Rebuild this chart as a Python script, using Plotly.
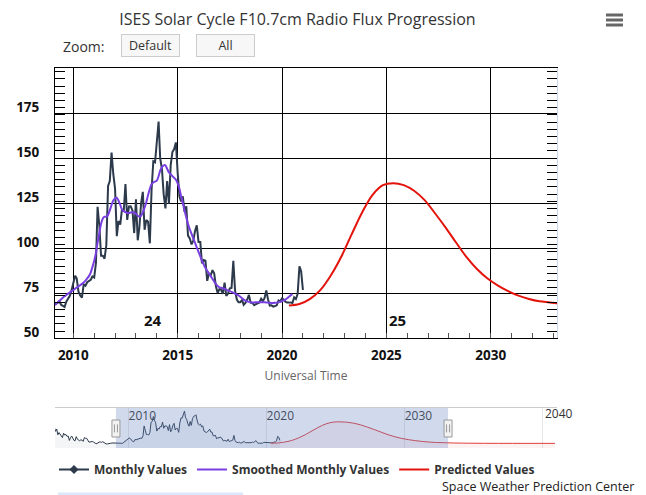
import plotly.graph_objects as go
import pandas as pd

# ---------------- data ----------------
monthly_start = "2004-09-01"
monthly_values = [
    # 2004 (Sep-Dec)
    118, 106, 113, 95,
    # 2005
    102, 97, 90, 86, 100, 94, 96, 90, 91, 77, 86, 91,
    # 2006
    84, 77, 76, 89, 81, 77, 76, 79, 78, 74, 86, 84,
    # 2007
    84, 78, 72, 72, 74, 74, 72, 69, 67, 67, 70, 72,
    # 2008
    72, 71, 73, 70, 68, 66, 66, 66, 67, 68, 69, 69,
    # 2009
    69.8, 70.0, 69.2, 69.7, 70.5, 68.6, 68.2, 67.4, 70.5, 72.3, 73.6, 76.7,
    # 2010
    81.1, 84.7, 83.3, 75.9, 73.8, 72.6, 79.9, 79.2, 81.1, 81.6, 82.5, 84.3,
    # 2011
    83.7, 92.0, 123.0, 112.6, 95.8, 95.8, 94.2, 101.7, 134.5, 137.2, 153.1, 141.2,
    # 2012
    133.1, 106.7, 115.1, 113.1, 121.5, 120.5, 135.6, 115.7, 123.2, 123.3, 120.9, 108.4,
    # 2013
    127.1, 104.4, 111.2, 125.0, 131.3, 110.2, 115.6, 114.7, 102.7, 132.3, 148.3, 147.7,
    # 2014
    158.6, 170.3, 149.9, 143.8, 130.0, 122.1, 137.3, 124.7, 146.1, 153.4, 155.0, 158.7,
    # 2015
    141.7, 128.8, 125.9, 128.8, 120.1, 123.2, 107.0, 105.4, 102.1, 104.1, 109.6, 112.7,
    # 2016
    103.5, 103.5, 91.6, 93.4, 93.0, 81.9, 85.9, 85.0, 87.8, 86.1, 78.7, 75.1,
    # 2017
    77.3, 76.9, 74.6, 80.9, 73.6, 74.8, 77.7, 77.9, 93.0, 76.6, 71.5, 70.0,
    # 2018
    70.0, 71.3, 68.6, 69.7, 71.4, 74.1, 69.8, 69.6, 68.4, 69.0, 69.4, 69.9,
    # 2019
    72.0, 70.6, 72.3, 76.6, 71.7, 68.1, 68.3, 67.6, 67.9, 68.3, 71.0, 70.5,
    # 2020
    72.1, 71.5, 70.3, 69.8, 69.8, 69.9, 69.5, 72.7, 71.8, 74.7, 89.9, 87.2,
    # 2021
    76.8,
]

smoothed_start = "2009-01-01"
smoothed_values = [
    # 2009
    68.2, 68.5, 69.0, 69.8, 70.8, 71.6, 72.5, 73.3, 74.0, 74.8, 75.5, 76.2,
    # 2010
    76.8, 77.5, 78.2, 78.8, 79.5, 80.2, 81.0, 82.0, 83.2, 84.5, 86.5, 89.5,
    # 2011
    93.0, 97.5, 103.0, 108.5, 113.5, 116.5, 117.5, 117.5, 118.5, 121.0, 124.0, 126.5,
    # 2012
    127.5, 128.0, 126.5, 124.0, 121.5, 120.5, 120.0, 119.5, 119.5, 119.8, 120.0, 119.8,
    # 2013
    119.0, 118.0, 117.5, 118.0, 120.0, 122.5, 125.5, 129.5, 133.0, 135.5, 136.5, 137.0,
    # 2014
    137.5, 140.0, 143.0, 145.0, 146.0, 146.0, 144.0, 142.0, 141.0, 140.0, 139.0, 138.0,
    # 2015
    136.0, 133.0, 129.0, 125.0, 121.0, 117.0, 113.5, 110.5, 108.0, 105.5, 103.0, 100.5,
    # 2016
    98.0, 95.5, 93.0, 91.0, 89.0, 87.5, 86.0, 84.5, 83.0, 81.5, 80.0, 79.0,
    # 2017
    78.3, 78.0, 77.8, 77.5, 77.0, 76.5, 76.2, 75.8, 75.3, 74.8, 74.3, 73.8,
    # 2018
    73.0, 72.2, 71.5, 70.9, 70.5, 70.2, 70.0, 69.9, 69.9, 70.0, 70.0, 70.0,
    # 2019
    70.0, 70.0, 70.0, 69.9, 69.8, 69.7, 69.6, 69.6, 69.7, 69.8, 70.0, 70.3,
    # 2020 (Jan-Jul)
    70.6, 71.0, 71.5, 72.2, 73.0, 73.8, 74.5,
]

predicted_dates = [
    "2020-05-01", "2020-11-01", "2021-05-01", "2021-11-01", "2022-05-01", "2022-11-01",
    "2023-05-01", "2023-11-01", "2024-05-01", "2024-11-01", "2025-05-01", "2025-11-01",
    "2026-05-01", "2026-11-01", "2027-05-01", "2027-11-01", "2028-05-01", "2028-11-01",
    "2029-05-01", "2029-11-01", "2030-05-01", "2030-11-01", "2031-05-01", "2031-11-01",
    "2032-05-01", "2032-11-01", "2033-05-01", "2033-11-01", "2034-11-01", "2035-11-01",
    "2036-11-01", "2037-11-01", "2038-11-01", "2039-11-01", "2040-12-01",
]
predicted_values = [
    68.2, 69.0, 71.7, 76.7, 84.7, 95.1,
    107.5, 119.7, 129.5, 135.0, 136.1, 135.0,
    131.9, 126.7, 119.4, 111.6, 103.3, 95.2,
    88.6, 83.3, 79.4, 76.2, 73.7, 71.8,
    70.5, 69.9, 69.2, 68.7, 68.2, 67.9,
    67.8, 67.7, 67.7, 67.7, 67.7,
]

y_tick_values = [50, 75, 100, 125, 150, 175]
x_tick_years = [2010, 2015, 2020, 2025, 2030]
nav_tick_years = [2010, 2020, 2030]
nav_edge_label_year = 2040
cycle_labels = ["24", "25"]
cycle_label_dates = ["2013-10-23", "2025-07-10"]
cycle_label_value = 60

main_x_range = ["2009-02-14", "2033-03-06"]
main_y_range = [50, 200]
nav_x_range = ["2004-09-16", "2041-01-25"]
nav_y_range = [53, 180]

# ---------------- derived ----------------
monthly_dates = pd.date_range(monthly_start, periods=len(monthly_values), freq="MS")
smoothed_dates = pd.date_range(smoothed_start, periods=len(smoothed_values), freq="MS")

C_MONTHLY = "#2c3a4c"
C_SMOOTH = "#7a3fe0"
C_PRED = "#e3140c"
FONT = "Open Sans"

# page body has an 8px margin: figure is 638x487, all page coords shifted by 8
PW = 502.0   # plot width in px
PH = 380.0   # total plotting height in px


def px(xpage):
    return (xpage - 55) / PW


def py(ypage):
    return (448 - ypage) / PH


fig = go.Figure()

# legend-only entry for monthly (line + diamond marker)
fig.add_trace(go.Scatter(
    x=[None], y=[None], mode="lines+markers", name="Monthly Values",
    line=dict(color=C_MONTHLY, width=2),
    marker=dict(symbol="diamond", size=7, color=C_MONTHLY),
    xaxis="x", yaxis="y", showlegend=True, hoverinfo="skip",
))

fig.add_trace(go.Scatter(
    x=monthly_dates, y=monthly_values, mode="lines", name="Monthly Values",
    line=dict(color=C_MONTHLY, width=2), showlegend=False,
    xaxis="x", yaxis="y",
))
fig.add_trace(go.Scatter(
    x=smoothed_dates, y=smoothed_values, mode="lines", name="Smoothed Monthly Values",
    line=dict(color=C_SMOOTH, width=2, shape="spline", smoothing=0.6),
    xaxis="x", yaxis="y",
))
fig.add_trace(go.Scatter(
    x=predicted_dates, y=predicted_values, mode="lines", name="Predicted Values",
    line=dict(color=C_PRED, width=2, shape="spline", smoothing=1.0),
    xaxis="x", yaxis="y3",
))

# navigator series
fig.add_trace(go.Scatter(
    x=monthly_dates, y=monthly_values, mode="lines", showlegend=False,
    line=dict(color=C_MONTHLY, width=1), fill="tozeroy",
    fillcolor="rgba(44,58,76,0.05)", xaxis="x2", yaxis="y2", hoverinfo="skip",
))
fig.add_trace(go.Scatter(
    x=predicted_dates, y=predicted_values, mode="lines", showlegend=False,
    line=dict(color="#e33a3a", width=1, shape="spline"), fill="tozeroy",
    fillcolor="rgba(227,20,12,0.05)", xaxis="x2", yaxis="y2", hoverinfo="skip",
))

# cycle labels
for lab, d in zip(cycle_labels, cycle_label_dates):
    fig.add_annotation(
        x=d, y=cycle_label_value, xref="x", yref="y", text=lab, showarrow=False,
        font=dict(family=FONT, size=15, color="#111", weight="bold"),
    )

tick_font = dict(family=FONT, size=13.5, color="#111", weight="bold")

fig.update_layout(
    width=638, height=487,
    margin=dict(l=47, r=89, t=60, b=47, autoexpand=False),
    paper_bgcolor="white", plot_bgcolor="white",
    title=dict(text="ISES Solar Cycle F10.7cm Radio Flux Progression",
               x=(297.5 - 8) / 638, xref="container", xanchor="center",
               y=1 - (19 - 8) / 487, yref="container", yanchor="middle",
               font=dict(family=FONT, size=16, color="#333")),
    xaxis=dict(
        domain=[0, 1], anchor="y", type="date", range=main_x_range,
        tickvals=[f"{yr}-01-01" for yr in x_tick_years],
        ticktext=[str(yr) for yr in x_tick_years],
        showgrid=True, gridcolor="#000", gridwidth=1,
        ticks="", tickfont=tick_font, ticklabelstandoff=4,
        minor=dict(dtick="M12", tick0="2009-01-01", ticks="inside", ticklen=5,
                   tickcolor="#555", showgrid=False),
        showline=True, linecolor="#000", linewidth=1, mirror=True,
        zeroline=False,
        title=dict(text="Universal Time", standoff=9,
                   font=dict(family=FONT, size=12, color="#666")),
    ),
    yaxis=dict(
        domain=[py(338.3), 1], anchor="x", range=main_y_range,
        tickvals=y_tick_values, showgrid=True, gridcolor="#000", gridwidth=1,
        ticks="inside", ticklen=10, tickcolor="#000",
        minor=dict(dtick=4, tick0=50, ticks="inside", ticklen=10,
                   tickcolor="#000", showgrid=False),
        tickfont=tick_font, ticklabelshift=-6, ticklabelstandoff=12,
        showline=True, linecolor="#000", linewidth=1, zeroline=False,
    ),
    yaxis3=dict(
        overlaying="y", side="right", anchor="x", range=main_y_range,
        tickvals=y_tick_values, showgrid=False, showticklabels=False,
        ticks="inside", ticklen=10, tickcolor="#000",
        minor=dict(dtick=4, tick0=50, ticks="inside", ticklen=10,
                   tickcolor="#000", showgrid=False),
        showline=True, linecolor="#ccd6eb", linewidth=1, zeroline=False,
    ),
    xaxis2=dict(
        domain=[0, 1], anchor="y2", type="date", range=nav_x_range, side="top",
        tickvals=[f"{yr}-01-01" for yr in nav_tick_years + [nav_edge_label_year]],
        ticktext=[str(yr) for yr in nav_tick_years] + [""],
        ticklabelposition="inside right", ticks="",
        tickfont=dict(family=FONT, size=12, color="#333"),
        showgrid=True, gridcolor="#e6e6e6", gridwidth=1,
        showline=True, linecolor="#cccccc", linewidth=1, zeroline=False,
    ),
    yaxis2=dict(
        domain=[0, py(408)], anchor="x2", range=nav_y_range, visible=False,
        showgrid=False, zeroline=False,
    ),
    legend=dict(
        orientation="h", x=px(297), xanchor="center", y=py(469.5), yanchor="middle",
        font=dict(family=FONT, size=12, color="#333", weight="bold"),
        bgcolor="rgba(0,0,0,0)", itemclick=False, itemdoubleclick=False,
    ),
    showlegend=True,
)

# navigator label at the right edge (would be hidden as an inside tick label)
fig.add_annotation(xref="x2", yref="paper", x=f"{nav_edge_label_year}-01-01", y=py(413.5),
                   text=str(nav_edge_label_year), showarrow=False, xanchor="left",
                   yanchor="middle", xshift=1,
                   font=dict(family=FONT, size=12, color="#333"))

# navigator mask and handles
fig.add_shape(type="rect", xref="x2", yref="y2 domain",
              x0=main_x_range[0], x1=main_x_range[1], y0=0, y1=1,
              fillcolor="rgba(102,133,194,0.3)", line=dict(width=0), layer="above")
for d in main_x_range:
    fig.add_shape(type="rect", xref="x2", yref="y2 domain", xsizemode="pixel",
                  xanchor=d, x0=-4, x1=4, y0=0.275, y1=0.7,
                  fillcolor="#f2f2f2", line=dict(color="#999", width=1), layer="above")
    for off in (-1.5, 1.5):
        fig.add_shape(type="line", xref="x2", yref="y2 domain", xsizemode="pixel",
                      xanchor=d, x0=off, x1=off, y0=0.39, y1=0.59,
                      line=dict(color="#999", width=1), layer="above")

# zoom label + buttons
fig.add_annotation(xref="paper", yref="paper", x=px(84), y=py(47),
                   text="Zoom:", showarrow=False, xanchor="center", yanchor="middle",
                   font=dict(family=FONT, size=14, color="#333"))
for lab, cx in (("Default", 150.5), ("All", 225)):
    fig.add_annotation(xref="paper", yref="paper", x=px(cx), y=py(45.5),
                       text=lab, showarrow=False, xanchor="center", yanchor="middle",
                       width=55, height=19, bgcolor="#f7f7f7", bordercolor="#cccccc",
                       borderwidth=1, borderpad=1,
                       font=dict(family=FONT, size=12.5, color="#333"))

# hamburger menu icon
for yy in (15, 20, 25):
    fig.add_shape(type="rect", xref="paper", yref="paper",
                  x0=px(606), x1=px(623),
                  y0=py(yy + 1.5), y1=py(yy - 1.5),
                  fillcolor="#666", line=dict(width=0))

# credits
fig.add_annotation(xref="paper", yref="paper", x=px(636), y=py(486.5),
                   text="Space Weather Prediction Center", showarrow=False,
                   xanchor="right", yanchor="middle",
                   font=dict(family=FONT, size=12.5, color="#222"))

# faint blue strip at the bottom-left
fig.add_shape(type="rect", xref="paper", yref="paper",
              x0=px(58), x1=px(243), y0=py(492.5), y1=py(495),
              fillcolor="#dbe8fb", line=dict(width=0))

fig.write_html("out.html")
